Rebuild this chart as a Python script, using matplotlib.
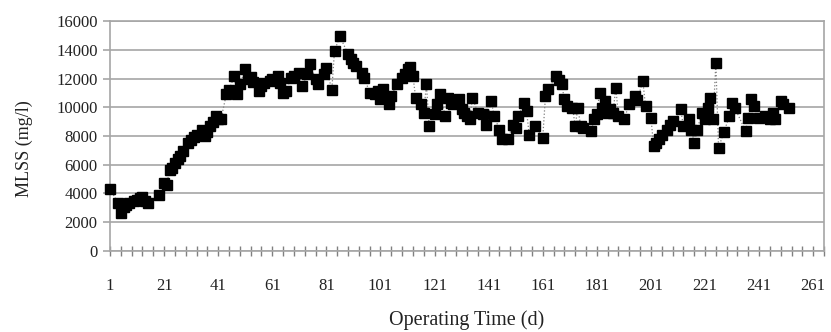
import matplotlib
matplotlib.use('Agg')
import matplotlib.pyplot as plt

# Jours de fonctionnement et MLSS (mg/l)
jours = [1, 4, 5, 6, 7, 8, 10, 11, 12, 13, 14, 15, 19, 21, 22, 23, 24, 25, 26, 27,
         28, 30, 31, 32, 33, 35, 36, 37, 38, 39, 40, 41, 42, 44, 45, 47, 48, 49, 51, 52,
         53, 54, 56, 57, 58, 60, 61, 63, 64, 65, 66, 68, 69, 71, 72, 74, 75, 77, 78, 80,
         81, 83, 84, 86, 89, 90, 91, 92, 94, 95, 97, 99, 100, 101, 102, 104, 105, 107, 109, 110,
         111, 112, 113, 114, 116, 117, 118, 119, 121, 122, 123, 125, 126, 127, 128, 130, 131, 132, 133, 134,
         135, 137, 139, 140, 142, 143, 145, 146, 148, 150, 151, 152, 154, 155, 156, 158, 161, 162, 163, 166,
         167, 168, 169, 170, 172, 173, 174, 175, 176, 179, 180, 181, 182, 183, 184, 185, 186, 187, 188, 189,
         191, 193, 195, 196, 198, 199, 201, 202, 203, 204, 205, 207, 208, 209, 212, 213, 215, 216, 217, 218,
         220, 221, 222, 223, 224, 225, 226, 228, 230, 231, 232, 236, 237, 238, 239, 241, 243, 245, 246, 247,
         249, 250, 252]
mlss = [4300, 3350, 2650, 3050, 3200, 3350, 3450, 3560, 3700, 3770, 3500, 3350, 3900, 4750, 4600, 5650, 5800, 6150, 6400, 6600,
        6940, 7500, 7750, 7900, 8100, 8450, 8000, 8300, 8690, 9000, 9380, 9200, 9150, 10900, 11200, 12180, 10900, 11600, 12650, 11950,
        12100, 11740, 11130, 11480, 11700, 11830, 12000, 12180, 11720, 11020, 11100, 12070, 12200, 12410, 11480, 12300, 13000, 11950, 11600, 12300,
        12760, 11200, 13930, 14930, 13700, 13350, 13100, 12880, 12410, 12070, 11020, 10900, 11100, 10550, 11250, 10200, 10780, 11600, 12070, 12300,
        12650, 12800, 12180, 10670, 10200, 9620, 11600, 8690, 9500, 10200, 10900, 9380, 10670, 10300, 10200, 10550, 9850, 9600, 9380, 9150,
        10670, 9620, 9500, 8800, 10430, 9380, 8450, 7760, 7760, 8800, 8570, 9380, 10320, 9730, 8100, 8690, 7870, 10780, 11250, 12180,
        11900, 11600, 10550, 10080, 9970, 8690, 9970, 8690, 8570, 8340, 9150, 9500, 11020, 9970, 10430, 9620, 9850, 9620, 11370, 9380,
        9150, 10200, 10780, 10500, 11830, 10080, 9270, 7290, 7500, 7760, 8100, 8450, 8800, 9030, 9850, 8690, 9150, 8450, 7530, 8450,
        9620, 9150, 9970, 10670, 9150, 13110, 7180, 8270, 9380, 10320, 9970, 8340, 9270, 10550, 10080, 9270, 9380, 9150, 9620, 9150,
        10430, 10200, 9970]

etiquettes_x = list(range(1, 262, 20))
etiquettes_y = list(range(0, 16001, 2000))

plt.rcParams['font.family'] = ['Liberation Serif', 'DejaVu Serif']

fig = plt.figure(figsize=(8.31, 3.32), dpi=100)
ax = fig.add_axes([0.1324, 0.244, 0.8592, 0.6927])

gris = '#a6a6a6'
ax.plot(jours, mlss, linestyle=':', color='#808080', linewidth=0.9,
        marker='s', markersize=6.5, markerfacecolor='black', markeredgecolor='black',
        zorder=3, clip_on=False)

ax.set_xlim(1, 265)
ax.set_ylim(0, 16000)
ax.set_yticks(etiquettes_y)
ax.set_xticks(etiquettes_x)
ax.set_xticks(list(range(1, 266, 4)), minor=True)
ax.grid(True, axis='y', color=gris, linewidth=1.2)
ax.set_axisbelow(True)

for s in ax.spines.values():
    s.set_color(gris)
    s.set_linewidth(1.2)

ax.tick_params(axis='x', which='both', direction='inout', length=7, color='#808080', width=1)
ax.tick_params(axis='x', which='major', pad=16, labelsize=12, labelcolor='#222222')
ax.tick_params(axis='y', direction='out', length=5, color=gris, width=1.2, pad=4,
               labelsize=12, labelcolor='#222222')

ax.set_xlabel('Operating Time (d)', fontsize=14.5, labelpad=12, color='#222222')
ax.set_ylabel('MLSS (mg/l)', fontsize=13, color='#222222')
ax.yaxis.set_label_coords(-0.108, 0.445)

fig.savefig('out.png', dpi=100)
